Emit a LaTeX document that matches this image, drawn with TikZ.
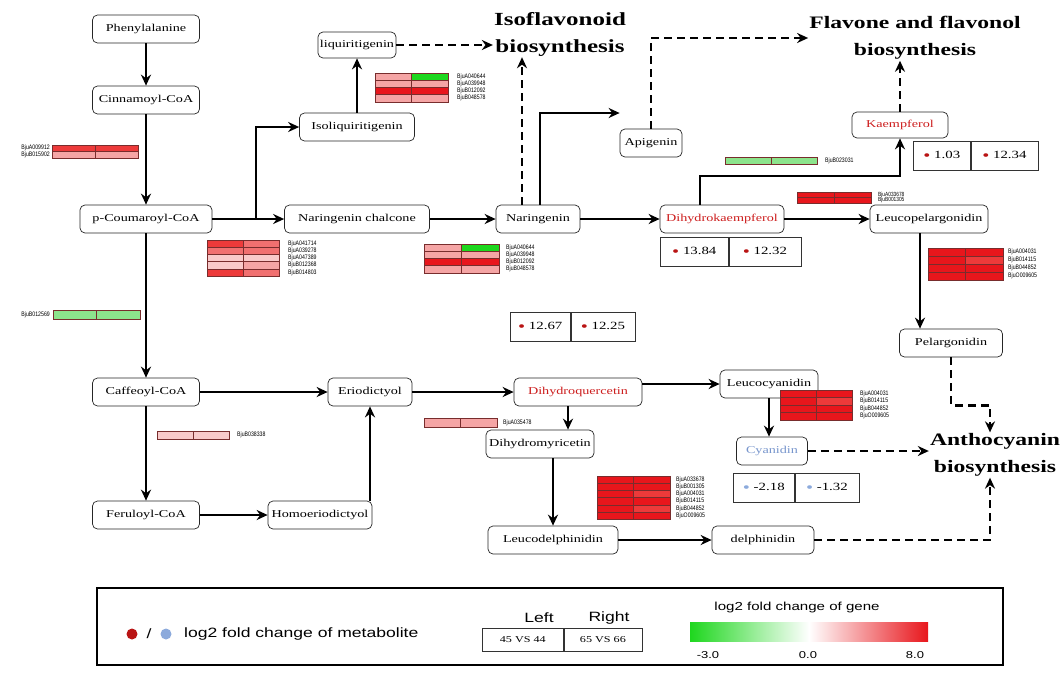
\documentclass[tikz,border=0pt]{standalone}
\usepackage{fontspec}
\setmainfont{Liberation Serif}[FakeStretch=1.35]
\newfontfamily\legsans{Liberation Sans}[FakeStretch=1.3]
\newfontfamily\genesans{Liberation Sans}[FakeStretch=0.8]
\usetikzlibrary{arrows.meta,positioning,calc}
\definecolor{hR}{RGB}{232,22,28}
\definecolor{hRb}{RGB}{237,58,58}
\definecolor{hM}{RGB}{241,112,112}
\definecolor{hP}{RGB}{245,165,165}
\definecolor{hL}{RGB}{249,202,202}
\definecolor{hG}{RGB}{30,215,30}
\definecolor{hLG}{RGB}{140,228,140}
\definecolor{cellline}{RGB}{120,45,45}
\definecolor{dotred}{RGB}{185,20,20}
\definecolor{dotblue}{RGB}{140,170,220}
\definecolor{txtred}{RGB}{205,30,30}
\definecolor{txtblue}{RGB}{120,150,205}
\newcommand\rdot{\textcolor{dotred}{\raisebox{-1.4pt}{\fontsize{15}{15}\selectfont\textbullet}}}
\newcommand\bdot{\textcolor{dotblue}{\raisebox{-1.4pt}{\fontsize{15}{15}\selectfont\textbullet}}}
% heat map: x, y (top left), half width, row height, rows
\newcommand\hmap[5]{%
  \foreach \a/\b [count=\i from 0] in {#5}{
    \draw[cell,fill=\a] (#1,{#2-#4*\i}) rectangle ++(#3,-#4);
    \draw[cell,fill=\b] ({#1+#3},{#2-#4*\i}) rectangle ++(#3,-#4);}}
\tikzset{
  >={Stealth[length=11pt,width=10pt]},
  met/.style={draw=black!85,line width=0.7pt,rounded corners=5pt,fill=white,minimum height=28pt,inner sep=2pt,font=\fontsize{10.5}{12}\selectfont},
  ptitle/.style={align=center,inner sep=1pt,font=\fontsize{18.5}{27}\selectfont\bfseries},
  valbox/.style={draw=black!80,line width=0.6pt,minimum height=29pt,inner sep=0pt,anchor=west,font=\fontsize{11}{12}\selectfont},
  flow/.style={->,line width=2.8pt},
  dflow/.style={->,line width=2.8pt,dash pattern=on 8pt off 5pt},
  cell/.style={draw=cellline,line width=0.5pt},
  genes/.style={inner sep=0pt,align=left,font=\genesans\fontsize{6.5}{7.2}\selectfont},
  legtext/.style={inner sep=1pt,font=\legsans\fontsize{13.5}{15}\selectfont},
}
\begin{document}
\begin{tikzpicture}[x=1pt,y=1pt]
  \useasboundingbox (0,0) rectangle (1063,-673);

  % ---------------- phenylpropanoid trunk
  \node[met,minimum width=107pt] (phe)  at (146,-29)  {Phenylalanine};
  \node[met,minimum width=107pt] (cin)  at (146,-100) {Cinnamoyl-CoA};
  \node[met,minimum width=132pt] (pcou) at (146,-219) {p-Coumaroyl-CoA};
  \node[met,minimum width=107pt] (caf)  at (146,-392) {Caffeoyl-CoA};
  \node[met,minimum width=107pt] (fer)  at (146,-515) {Feruloyl-CoA};
  \node[met,minimum width=104pt] (homo) at (320,-515) {Homoeriodictyol};
  \node[met,minimum width=84pt]  (erio) at (370,-392) {Eriodictyol};

  % ---------------- chalcones, flavanones
  \node[met,minimum width=145pt] (narch)  at (357,-219) {Naringenin chalcone};
  \node[met,minimum width=115pt] (isoliq) at (357,-127) {Isoliquiritigenin};
  \node[met,minimum width=72pt,minimum height=26pt] (liq) at (357,-45) {liquiritigenin};
  \node[met,minimum width=84pt]  (nar)  at (538,-219) {Naringenin};
  \node[met,minimum width=62pt]  (api)  at (651,-143) {Apigenin};

  % ---------------- flavonols, anthocyanidins
  \node[met,minimum width=124pt,text=txtred] (dhk) at (722,-219) {Dihydrokaempferol};
  \node[met,minimum width=118pt] (leucp) at (929,-219) {Leucopelargonidin};
  \node[met,minimum width=96pt,minimum height=26pt,text=txtred] (kae) at (900,-125) {Kaempferol};
  \node[met,minimum width=103pt] (pel)  at (951,-343) {Pelargonidin};
  \node[met,minimum width=128pt,text=txtred] (dhq) at (578,-392) {Dihydroquercetin};
  \node[met,minimum width=98pt]  (leucc) at (769,-384) {Leucocyanidin};
  \node[met,minimum width=108pt] (dhm)  at (540,-444) {Dihydromyricetin};
  \node[met,minimum width=130pt] (leucd) at (553,-540) {Leucodelphinidin};
  \node[met,minimum width=102pt] (del)  at (763,-540) {delphinidin};
  \node[met,minimum width=71pt,text=txtblue] (cya) at (772,-451) {Cyanidin};

  % ---------------- downstream pathways
  \node[ptitle] (iso)   at (560,-34)  {Isoflavonoid\\biosynthesis};
  \node[ptitle,font=\fontsize{17.5}{27}\selectfont\bfseries] (flav) at (915,-38) {Flavone and flavonol\\biosynthesis};
  \node[ptitle,font=\fontsize{17.5}{27}\selectfont\bfseries] (antho) at (995,-455) {Anthocyanin\\biosynthesis};

  % ---------------- metabolite values
  \node[valbox,minimum width=57pt] (kaeL) at (913,-156) {\rdot~1.03};
  \node[valbox,minimum width=67pt] (kaeR) at (kaeL.east) {\rdot~12.34};
  \node[valbox,minimum width=68pt] (dhkL) at (660,-252) {\rdot~13.84};
  \node[valbox,minimum width=72pt] (dhkR) at (dhkL.east) {\rdot~12.32};
  \node[valbox,minimum width=60pt] (dhqL) at (510,-327) {\rdot~12.67};
  \node[valbox,minimum width=64pt] (dhqR) at (dhqL.east) {\rdot~12.25};
  \node[valbox,minimum width=61pt] (cyaL) at (733,-488) {\bdot~-2.18};
  \node[valbox,minimum width=64pt] (cyaR) at (cyaL.east) {\bdot~-1.32};

  % ---------------- arrows
  \coordinate (br1) at (256,-219);
  \coordinate (abend) at (540,-113);
  \coordinate (kbend) at (900,-176);
  \draw[flow] (phe) -- (cin);
  \draw[flow] (cin) -- (pcou);
  \draw[flow] (pcou) -- (caf);
  \draw[flow] (caf) -- (fer);
  \draw[flow] (fer) -- (homo);
  \draw[flow] (homo.north -| erio.south) -- (erio.south);
  \draw[flow] (caf) -- (erio);
  \draw[flow] (pcou) -- (narch);
  \draw[flow] (br1) |- (isoliq.west);
  \draw[flow] (isoliq) -- (liq);
  \draw[dflow] (liq.east) -- (liq.east -| iso.west);
  \draw[flow] (narch) -- (nar);
  \draw[dflow] ([xshift=-16pt]nar.north) -- ([xshift=-16pt]nar.north |- iso.south);
  \draw[flow] (nar.north -| abend) -- (abend) -- (abend -| api.west);
  \draw[dflow] (api.north) |- (flav.west);
  \draw[flow] (nar) -- (dhk);
  \draw[flow] ([xshift=-22pt]dhk.north) |- (kbend) -- (kae.south);
  \draw[dflow] (kae.north) -- (kae.north |- flav.south);
  \draw[flow] (dhk) -- (leucp);
  \draw[flow] ([xshift=-9pt]leucp.south) -- ([xshift=-9pt]leucp.south |- pel.north);
  \draw[dflow] (pel.south) -- ++(0,-48) -| ([xshift=-5pt]antho.north);
  \draw[flow] (erio) -- (dhq);
  \draw[flow] (dhq.east |- leucc.west) -- (leucc.west);
  \draw[flow] ([xshift=-10pt]dhq.south) -- ([xshift=-10pt]dhq.south |- dhm.north);
  \draw[flow] (leucd.north |- dhm.south) -- (leucd.north);
  \draw[flow] (leucd) -- (del);
  \draw[dflow] (del.east) -| ([xshift=-5pt]antho.south);
  \draw[flow] (leucc.south) -- (leucc.south |- cya.north);
  \draw[dflow] (cya.east) -- (cya.east -| antho.west);

  % ---------------- gene heat maps
  \hmap{52}{-145}{43}{6.5}{hRb/hRb,hP/hP}
  \node[genes,anchor=east,font=\genesans\fontsize{6.5}{6.5}\selectfont] (g1) at (50,-151.5) {BjuA009912\\BjuB015902};
  \hmap{207}{-240}{36}{7.2}{hRb/hM,hM/hM,hL/hL,hL/hP,hRb/hM}
  \node[genes,anchor=west] (g2) at (288,-258) {BjuA041714\\BjuA039278\\BjuA047389\\BjuB012368\\BjuB014803};
  \hmap{375}{-73}{36.5}{7.2}{hP/hG,hP/hP,hR/hR,hP/hP}
  \node[genes,anchor=west] (g3) at (457,-87.4) {BjuA040644\\BjuA039948\\BjuB012092\\BjuB048578};
  \hmap{424}{-244}{37.5}{7.2}{hP/hG,hP/hP,hR/hR,hP/hP}
  \node[genes,anchor=west] (g4) at (506,-258.4) {BjuA040644\\BjuA039948\\BjuB012092\\BjuB048578};
  \hmap{53}{-310}{43.5}{9}{hLG/hLG}
  \node[genes,anchor=east] (g5) at (50,-314.5) {BjuB012569};
  \hmap{157}{-431}{36}{8.5}{hL/hL}
  \node[genes,anchor=west] (g6) at (237,-435.2) {BjuB038338};
  \hmap{424}{-418}{36.5}{9}{hP/hP}
  \node[genes,anchor=west] (g7) at (503,-422.5) {BjuA035478};
  \hmap{597}{-476}{36.5}{7.2}{hR/hR,hR/hR,hR/hRb,hR/hR,hR/hRb,hR/hR}
  \node[genes,anchor=west] (g8) at (676,-497.6) {BjuA033678\\BjuB001305\\BjuA004031\\BjuB014115\\BjuB044852\\BjuO009605};
  \hmap{725}{-157}{46}{7.5}{hLG/hLG}
  \node[genes,anchor=west] (g9) at (825,-160.8) {BjuB023031};
  \hmap{797}{-192}{37}{5.5}{hR/hR,hR/hR}
  \node[genes,anchor=west,font=\genesans\fontsize{6}{5.8}\selectfont] (g10) at (878,-197.5) {BjuA033678\\BjuB001305};
  \hmap{928}{-248}{37.5}{8}{hR/hR,hR/hRb,hR/hR,hR/hR}
  \node[genes,anchor=west,font=\genesans\fontsize{6.5}{8}\selectfont] (g11) at (1008,-264) {BjuA004031\\BjuB014115\\BjuB044852\\BjuO009605};
  \hmap{780}{-390}{36}{7.5}{hR/hR,hR/hRb,hR/hR,hR/hR}
  \node[genes,anchor=west,font=\genesans\fontsize{6.5}{7.5}\selectfont] (g12) at (860,-405) {BjuA004031\\BjuB014115\\BjuB044852\\BjuO009605};

  % ---------------- legend
  \draw[line width=2.8pt] (97,-588) rectangle (1003,-665);
  \node[circle,fill=dotred,inner sep=0pt,minimum size=11pt] (ldR) at (132,-634) {};
  \node[legtext] (lsl) at (149,-634) {/};
  \node[circle,fill=dotblue,inner sep=0pt,minimum size=11pt] (ldB) at (166,-634) {};
  \node[legtext,anchor=west] (lmet) at (183,-634) {log2 fold change of metabolite};
  \node[legtext] (lleft)  at (539,-618) {Left};
  \node[legtext] (lright) at (609,-618) {Right};
  \node[valbox,minimum width=81pt,minimum height=23pt,font=\fontsize{9}{10}\selectfont] (lL) at (482,-640) {45 VS 44};
  \node[valbox,minimum width=78pt,minimum height=23pt,font=\fontsize{9}{10}\selectfont] (lR) at (lL.east) {65 VS 66};
  \node[legtext,font=\legsans\fontsize{11.6}{13}\selectfont] (lgene) at (797,-607) {log2 fold change of gene};
  \shade[left color=hG,right color=hR,middle color=white] (690,-622) rectangle (928,-641);
  \node[legtext,font=\legsans\fontsize{10}{12}\selectfont] (lm3) at (708,-655) {-3.0};
  \node[legtext,font=\legsans\fontsize{10}{12}\selectfont] (l00) at (808,-655) {0.0};
  \node[legtext,font=\legsans\fontsize{10}{12}\selectfont] (l80) at (915,-655) {8.0};
\end{tikzpicture}
\end{document}
